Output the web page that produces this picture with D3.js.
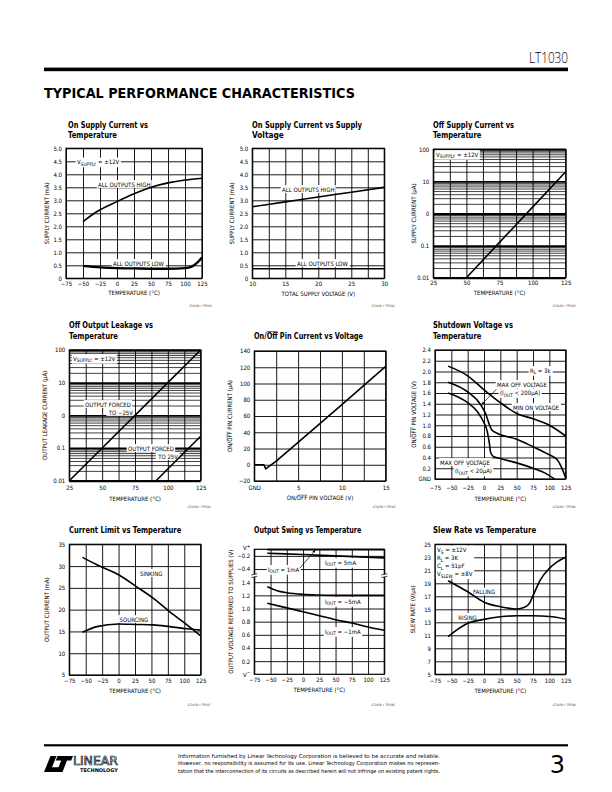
<!DOCTYPE html>
<html><head><meta charset="utf-8">
<script src="https://cdn.jsdelivr.net/npm/d3@7"></script>
<style>body{margin:0;background:#fff}svg{display:block}</style>
</head><body>
<svg id="page" width="612" height="792"></svg>
<script>
// ================= DATA =================
const tempTicks = [-75,-50,-25,0,25,50,75,100,125];
const tempTickLabels = ["−75","−50","−25","0","25","50","75","100","125"];
const logTicks = [100,10,1,0.1,0.01];
const logTickLabels = ["100","10","0","0.1","0.01"];
const logTempGrid = [25,37.5,50,62.5,75,87.5,100,112.5,125];
const logTempTicks = [25,50,75,100,125];
const logTempLabels = ["25","50","75","100","125"];

// Chart 1: On supply current vs temperature (mA)
const c1YTicks = [0,0.5,1,1.5,2,2.5,3,3.5,4,4.5,5];
const c1YLabels = ["0","0.5","1.0","1.5","2.0","2.5","3.0","3.5","4.0","4.5","5.0"];
const c1High = [[-50,2.18],[-30,2.56],[0,2.95],[25,3.25],[50,3.5],[75,3.67],[100,3.78],[125,3.85]];
const c1Low = [[-50,0.48],[-25,0.42],[0,0.39],[25,0.38],[50,0.37],[75,0.37],[100,0.39],[110,0.45],[118,0.6],[125,0.8]];

// Chart 2: On supply current vs supply voltage
const c2XGrid = [10,12.5,15,17.5,20,22.5,25,27.5,30];
const c2XTicks = [10,15,20,25,30];
const c2XLabels = ["10","15","20","25","30"];
const c2High = [[10,2.75],[15,2.94],[20,3.13],[25,3.31],[30,3.5]];
const c2Low = [[10,0.37],[20,0.37],[30,0.37]];

// Chart 3: Off supply current vs temperature (µA)
const c3Line = [[50,0.01],[75,0.126],[100,1.58],[125,20]];

// Chart 4: Off output leakage vs temperature
const c4Neg25 = [[25,0.01],[50,0.1],[75,1],[100,10],[125,100]];
const c4Pos25 = [[91,0.01],[116,0.1],[125,0.23]];

// Chart 5: On/Off pin current vs voltage
const c5XGrid = [0,2.5,5,7.5,10,12.5,15];
const c5XTicks = [0,5,10,15];
const c5XLabels = ["GND","5","10","15"];
const c5YTicks = [-20,0,20,40,60,80,100,120,140];
const c5YLabels = ["−20","0","20","40","60","80","100","120","140"];
const c5Line = [[0,0],[1.1,0],[1.3,-5],[2.5,4.5],[5,27.5],[10,74],[15,121]];

// Chart 6: Shutdown voltage vs temperature
const c6YTicks = [0,0.2,0.4,0.6,0.8,1,1.2,1.4,1.6,1.8,2,2.2,2.4];
const c6YLabels = ["GND","0.2","0.4","0.6","0.8","1.0","1.2","1.4","1.6","1.8","2.0","2.2","2.4"];
const c6MinOn = [[-55,2.1],[-25,1.92],[0,1.66],[25,1.42],[50,1.22],[75,1.12],[100,1.0],[125,0.8]];
const c6MaxOff200 = [[-55,1.8],[-25,1.62],[-5,1.38],[3,1.2],[8,1.02],[12,0.91],[20,0.85],[50,0.74],[75,0.6],[100,0.45],[112,0.36],[120,0.18],[125,0.02]];
const c6MaxOff20 = [[-55,1.6],[-25,1.42],[-10,1.25],[-1,1.07],[5,0.88],[8,0.68],[10,0.5],[14,0.42],[25,0.38],[50,0.3],[75,0.2],[95,0.1],[108,0.0]];

// Chart 7: Current limit vs temperature
const c7YTicks = [5,10,15,20,25,30,35];
const c7YLabels = ["5","10","15","20","25","30","35"];
const c7Sinking = [[-55,32],[-33,30.3],[0,28],[27,25.3],[53,22.6],[78,19.5],[104,16.5],[125,14]];
const c7Sourcing = [[-55,14.8],[-33,16.1],[0,16.7],[27,16.6],[53,16.5],[78,16.1],[104,15.6],[125,15.3]];

// Chart 8: Output swing vs temperature (broken axis: rows)
const c8Rows = [0,1,2,3,4,5,6,7,8,9,9.5];
const c8RowLabels = ["V−","0.2","0.4","0.6","0.8","1.0","1.2","1.4","−0.4","−0.2","V+"];
const c8GridRows = [1,2,3,4,5,6,7,8,9];
const c8High1mA = [[-55,-0.105],[25,-0.105],[125,-0.105]];       // referred to V+
const c8High5mA = [[-55,-0.16],[0,-0.18],[50,-0.2],[125,-0.23]];   // referred to V+
const c8Low5mA = [[-55,1.33],[-40,1.27],[-25,1.24],[0,1.215],[25,1.205],[50,1.2],[125,1.2]]; // referred to V−
const c8Low1mA = [[-55,1.08],[-25,1.01],[0,0.95],[25,0.89],[50,0.83],[75,0.78],[100,0.72],[125,0.67]];

// Chart 9: Slew rate vs temperature
const c9YTicks = [5,7,9,11,13,15,17,19,21,23,25];
const c9YLabels = ["5","7","9","11","13","15","17","19","21","23","25"];
const c9Falling = [[-55,19.4],[-25,17.7],[0,16.1],[25,15.4],[50,15.05],[62,15.3],[70,16.0],[75,17.1],[86,19.5],[100,21.3],[112,22.3],[125,23.0]];
const c9Rising = [[-55,10.8],[-25,12.85],[0,13.45],[25,13.85],[50,14.0],[75,14.0],[100,13.9],[125,13.5]];

const footerLines = [
  "Information furnished by Linear Technology Corporation is believed to be accurate and reliable.",
  "However, no responsibility is assumed for its use. Linear Technology Corporation makes no represen-",
  "tation that the interconnection of its circuits as described herein will not infringe on existing patent rights."
];

// ================= HELPERS =================
const NARROW = "'Liberation Sans Narrow','DejaVu Sans Condensed','Arial Narrow',sans-serif";
const svg = d3.select('#page');
svg.append('defs').append('marker').attr('id','arr').attr('viewBox','0 0 10 10')
  .attr('refX',9).attr('refY',5).attr('markerWidth',5).attr('markerHeight',5).attr('orient','auto')
  .append('path').attr('d','M0,1.5 L10,5 L0,8.5 Z').attr('fill','#000');

function addParts(t, parts, size) {
  if (!Array.isArray(parts)) parts = [parts];
  let shift = 0, idx = 0, cur = null, curKind = null;
  const overs = [];
  parts.forEach(p => {
    if (typeof p === 'string') p = {t: p};
    const kind = p.sub ? 'sub' : p.sup ? 'sup' : 'n';
    if (cur && kind === curKind) {
      cur.text(cur.text() + p.t);
    } else {
      cur = t.append('tspan').text(p.t); curKind = kind;
      const want = p.sub ? size*0.3 : p.sup ? -size*0.4 : 0;
      if (want !== shift) { cur.attr('dy', want - shift); shift = want; }
      if (kind !== 'n') cur.attr('font-size', size*0.8);
    }
    if (p.over) overs.push([idx, idx + p.t.length - 1]);
    idx += p.t.length;
  });
  return overs;
}
function bg(g, texts, pad) {
  pad = pad == null ? 1.3 : pad;
  let x0=Infinity,y0=Infinity,x1=-Infinity,y1=-Infinity;
  texts.forEach(t => { const b = t.node().getBBox();
    x0=Math.min(x0,b.x); y0=Math.min(y0,b.y); x1=Math.max(x1,b.x+b.width); y1=Math.max(y1,b.y+b.height); });
  g.insert('rect', () => texts[0].node()).attr('x',x0-pad).attr('y',y0-0.4)
    .attr('width',x1-x0+2*pad).attr('height',y1-y0+0.8).attr('fill','#fff');
}
function tx(g, x, y, parts, o) {
  o = o || {};
  const size = o.size || 6;
  const t = g.append('text').attr('x',x).attr('y',y)
    .attr('font-family', o.family || NARROW).attr('font-size', size)
    .attr('font-weight', o.weight || 'normal')
    .attr('text-anchor', o.anchor || 'start').attr('fill', o.fill || '#000');
  const tr = o.rotate ? `rotate(${o.rotate},${x},${y})` : null;
  if (tr) t.attr('transform', tr);
  const overs = addParts(t, parts, size);
  if (o.len) t.attr('textLength', o.len).attr('lengthAdjust', 'spacingAndGlyphs');
  if (o.stroke) t.attr('stroke', o.stroke).attr('stroke-width', o.sw || 0.5);
  if (o.bg) bg(g, [t], o.pad);
  overs.forEach(([i0, i1]) => {
    const a = t.node().getExtentOfChar(i0), b = t.node().getExtentOfChar(i1);
    const yy = y - size * 0.82;
    const l = g.append('line').attr('x1', a.x + 0.2).attr('x2', b.x + b.width - 0.2)
      .attr('y1', yy).attr('y2', yy).attr('stroke', '#000').attr('stroke-width', size * 0.07);
    if (tr) l.attr('transform', tr);
  });
  return t;
}
function gridX(g, xs, ys, vals, w) {
  const [b, t] = ys.range();
  g.append('g').attr('transform', `translate(0,${b})`)
    .call(d3.axisBottom(xs).tickValues(vals).tickSize(-(b - t)).tickFormat(''))
    .call(a => { a.select('.domain').remove(); a.selectAll('line').attr('stroke','#000').attr('stroke-width', w || 0.9); });
}
function gridY(g, xs, ys, vals, w) {
  const [l, r] = xs.range();
  g.append('g').attr('transform', `translate(${l},0)`)
    .call(d3.axisLeft(ys).tickValues(vals).tickSize(-(r - l)).tickFormat(''))
    .call(a => { a.select('.domain').remove(); a.selectAll('line').attr('stroke','#000').attr('stroke-width', w || 0.9); });
}
function ticksX(g, xs, ys, vals, labs, base) {
  const b = ys.range()[0];
  return g.append('g').attr('transform', `translate(0,${b})`)
    .call(d3.axisBottom(xs).tickValues(vals).tickSize(0).tickPadding(0).tickFormat((d,i) => labs[i]))
    .call(a => { a.select('.domain').remove();
      a.selectAll('text').attr('dy', null).attr('y', base || 8.5).attr('font-family', NARROW).attr('font-size', 6).attr('fill','#000'); });
}
function ticksY(g, xs, ys, vals, labs) {
  const l = xs.range()[0];
  return g.append('g').attr('transform', `translate(${l},0)`)
    .call(d3.axisLeft(ys).tickValues(vals).tickSize(0).tickPadding(4).tickFormat((d,i) => labs[i]))
    .call(a => { a.select('.domain').remove();
      a.selectAll('text').attr('font-family', NARROW).attr('font-size', 6).attr('fill','#000'); });
}
function frame(g, xs, ys) {
  const [l, r] = xs.range(); const [b, t] = ys.range();
  g.append('rect').attr('x', l).attr('y', t).attr('width', r - l).attr('height', b - t)
    .attr('fill','none').attr('stroke','#000').attr('stroke-width', 1.2);
}
function curve(g, data, xs, ys, w, c) {
  g.append('path').datum(data).attr('fill','none').attr('stroke','#000')
    .attr('stroke-width', w || 1.6).attr('stroke-linejoin','round').attr('stroke-linecap','butt')
    .attr('d', d3.line().x(d => xs(d[0])).y(d => ys(d[1])).curve(c || d3.curveMonotoneX));
}
function titleText(x, y, parts, len) {
  return tx(svg, x, y, parts, {size: 9, weight: 'bold', len: len});
}
function yTitle(g, x, ys, parts) {
  const [b, t] = ys.range();
  return tx(g, x, (b + t) / 2, parts, {rotate: -90, anchor: 'middle', size: 6});
}
function xTitle(g, xs, y, parts) {
  const [l, r] = xs.range();
  return tx(g, (l + r) / 2, y, parts, {anchor: 'middle', size: 6});
}
function code(g, xs, y, s) {
  tx(g, xs.range()[1] + 10, y, s, {anchor: 'end', size: 3.2, fill: '#333'});
}
const logMinor = [];
[-2,-1,0,1].forEach(k => { for (let m = 2; m <= 9; m++) logMinor.push(m * Math.pow(10, k)); });

// ================= HEADER =================
tx(svg, 568, 63, 'LT1030', {size: 15, anchor: 'end', weight: 300, family: "'Open Sans','Inter','DejaVu Sans',sans-serif", len: 39});
svg.append('rect').attr('x', 44).attr('y', 67.6).attr('width', 524).attr('height', 3.6).attr('fill', '#000');
tx(svg, 44, 98.3, 'TYPICAL PERFORMANCE CHARACTERISTICS', {size: 14, weight: 'bold', family: "'DejaVu Sans',sans-serif", len: 311});

// ================= CHART 1 =================
{
  const g = svg.append('g');
  const xs = d3.scaleLinear().domain([-75,125]).range([66,202]);
  const ys = d3.scaleLinear().domain([0,5]).range([278.3,148.3]);
  titleText(68, 127.5, 'On Supply Current vs', 80);
  titleText(68, 138.3, 'Temperature', 49);
  gridX(g, xs, ys, tempTicks); gridY(g, xs, ys, c1YTicks);
  ticksX(g, xs, ys, tempTicks, tempTickLabels, 7.5);
  ticksY(g, xs, ys, c1YTicks, c1YLabels);
  yTitle(g, 49, ys, 'SUPPLY CURRENT (mA)');
  xTitle(g, xs, 295, 'TEMPERATURE (°C)');
  tx(g, 77, 164, ['V', {t:'SUPPLY', sub:true}, ' = ±12V'], {bg: true});
  tx(g, 98, 186.5, 'ALL OUTPUTS HIGH', {bg: true});
  tx(g, 113, 265.5, 'ALL OUTPUTS LOW', {bg: true});
  frame(g, xs, ys);
  curve(g, c1High, xs, ys, 1.6);
  curve(g, c1Low, xs, ys, 2.4);
  code(g, xs, 307, 'LT1030 • TPC01');
}
// ================= CHART 2 =================
{
  const g = svg.append('g');
  const xs = d3.scaleLinear().domain([10,30]).range([252.3,384.3]);
  const ys = d3.scaleLinear().domain([0,5]).range([278.3,148.3]);
  titleText(252, 127.5, 'On Supply Current vs Supply', 110);
  titleText(252, 138.3, 'Voltage', 31.7);
  gridX(g, xs, ys, c2XGrid); gridY(g, xs, ys, c1YTicks);
  ticksX(g, xs, ys, c2XTicks, c2XLabels, 8);
  ticksY(g, xs, ys, c1YTicks, c1YLabels);
  yTitle(g, 234, ys, 'SUPPLY CURRENT (mA)');
  xTitle(g, xs, 295.5, 'TOTAL SUPPLY VOLTAGE (V)');
  tx(g, 282, 191.5, 'ALL OUTPUTS HIGH', {bg: true});
  tx(g, 297, 265.5, 'ALL OUTPUTS LOW', {bg: true});
  frame(g, xs, ys);
  curve(g, c2High, xs, ys, 1.6);
  curve(g, c2Low, xs, ys, 1.4);
  code(g, xs, 307, 'LT1030 • TPC02');
}
// ================= CHART 3 =================
{
  const g = svg.append('g');
  const xs = d3.scaleLinear().domain([25,125]).range([433.3,565.7]);
  const ys = d3.scaleLog().domain([0.01,100]).range([277.7,149.3]);
  titleText(433, 127.5, 'Off Supply Current vs', 81);
  titleText(433, 138.3, 'Temperature', 48.3);
  gridY(g, xs, ys, logMinor, 0.75);
  gridY(g, xs, ys, logTicks, 1.9);
  gridX(g, xs, ys, logTempGrid);
  ticksX(g, xs, ys, logTempTicks, logTempLabels, 7.5);
  ticksY(g, xs, ys, logTicks, logTickLabels);
  yTitle(g, 415.5, ys, 'SUPPLY CURRENT (μA)');
  xTitle(g, xs, 294.5, 'TEMPERATURE (°C)');
  tx(g, 436, 156.5, ['V', {t:'SUPPLY', sub:true}, ' = ±12V'], {bg: true});
  frame(g, xs, ys);
  curve(g, c3Line, xs, ys, 1.6, d3.curveLinear);
  code(g, xs, 307, 'LT1030 • TPC03');
}
// ================= CHART 4 =================
{
  const g = svg.append('g');
  const xs = d3.scaleLinear().domain([25,125]).range([69.3,200.7]);
  const ys = d3.scaleLog().domain([0.01,100]).range([480.7,350]);
  titleText(69, 327.7, 'Off Output Leakage vs', 84);
  titleText(69, 339, 'Temperature', 49);
  gridY(g, xs, ys, logMinor, 0.75);
  gridY(g, xs, ys, logTicks, 1.9);
  gridX(g, xs, ys, logTempGrid);
  ticksX(g, xs, ys, logTempTicks, logTempLabels, 9.8);
  ticksY(g, xs, ys, logTicks, logTickLabels);
  yTitle(g, 47.5, ys, 'OUTPUT LEAKAGE CURRENT (μA)');
  xTitle(g, xs, 500.5, 'TEMPERATURE (°C)');
  tx(g, 73, 360.5, ['V', {t:'SUPPLY', sub:true}, ' = ±12V'], {bg: true});
  tx(g, 85, 406.5, 'OUTPUT FORCED', {bg: true});
  tx(g, 133, 414.5, 'TO −25V', {bg: true, anchor: 'end'});
  tx(g, 128, 450.5, 'OUTPUT FORCED', {bg: true});
  tx(g, 178, 458.5, 'TO 25V', {bg: true, anchor: 'end'});
  frame(g, xs, ys);
  curve(g, c4Neg25, xs, ys, 1.6, d3.curveLinear);
  curve(g, c4Pos25, xs, ys, 1.6, d3.curveLinear);
  code(g, xs, 508, 'LT1030 • TPC04');
}
// ================= CHART 5 =================
{
  const g = svg.append('g');
  const xs = d3.scaleLinear().domain([0,15]).range([254.3,385.7]);
  const ys = d3.scaleLinear().domain([-20,140]).range([481,351]);
  titleText(254, 339, ['On/', {t:'Off', over:true}, ' Pin Current vs Voltage'], 109);
  gridX(g, xs, ys, c5XGrid); gridY(g, xs, ys, c5YTicks);
  ticksX(g, xs, ys, c5XTicks, c5XLabels, 8.8);
  ticksY(g, xs, ys, c5YTicks, c5YLabels);
  yTitle(g, 232, ys, ['ON/', {t:'OFF', over:true}, ' PIN CURRENT (μA)']);
  xTitle(g, xs, 500, ['ON/', {t:'OFF', over:true}, ' PIN VOLTAGE (V)']);
  frame(g, xs, ys);
  curve(g, c5Line, xs, ys, 1.6, d3.curveLinear);
  code(g, xs, 508, 'LT1030 • TPC05');
}
// ================= CHART 6 =================
{
  const g = svg.append('g');
  const xs = d3.scaleLinear().domain([-75,125]).range([435,565.7]);
  const ys = d3.scaleLinear().domain([0,2.4]).range([479,350]);
  titleText(433, 327.7, 'Shutdown Voltage vs', 80);
  titleText(433, 339, 'Temperature', 48.3);
  gridX(g, xs, ys, tempTicks); gridY(g, xs, ys, c6YTicks);
  ticksX(g, xs, ys, tempTicks, tempTickLabels, 11);
  ticksY(g, xs, ys, c6YTicks, c6YLabels);
  yTitle(g, 415.5, ys, ['ON/', {t:'OFF', over:true}, ' PIN VOLTAGE (V)']);
  xTitle(g, xs, 500.5, 'TEMPERATURE (°C)');
  tx(g, 530, 372.5, ['R', {t:'L', sub:true}, ' = 3k'], {bg: true});
  tx(g, 497, 386.5, 'MAX OFF VOLTAGE', {bg: true});
  tx(g, 500, 394.8, ['(I', {t:'OUT', sub:true}, ' < 200μA)'], {bg: true});
  tx(g, 513, 409.5, 'MIN ON VOLTAGE', {bg: true});
  tx(g, 440, 464.5, 'MAX OFF VOLTAGE', {bg: true});
  tx(g, 455, 473.2, ['(I', {t:'OUT', sub:true}, ' < 20μA)'], {bg: true});
  frame(g, xs, ys);
  curve(g, c6MinOn, xs, ys, 1.6);
  curve(g, c6MaxOff200, xs, ys, 1.6);
  curve(g, c6MaxOff20, xs, ys, 1.6);
  g.append('line').attr('x1', xs(19)).attr('y1', ys(1.67)).attr('x2', xs(-3.5)).attr('y2', ys(1.39))
    .attr('stroke','#000').attr('stroke-width',0.7).attr('marker-end','url(#arr)');
  code(g, xs, 508, 'LT1030 • TPC06');
}
// ================= CHART 7 =================
{
  const g = svg.append('g');
  const xs = d3.scaleLinear().domain([-75,125]).range([69.3,200.7]);
  const ys = d3.scaleLinear().domain([5,35]).range([675,544.3]);
  titleText(69, 533.3, 'Current Limit vs Temperature', 112.3);
  gridX(g, xs, ys, tempTicks); gridY(g, xs, ys, c7YTicks);
  ticksX(g, xs, ys, tempTicks, tempTickLabels, 8);
  ticksY(g, xs, ys, c7YTicks, c7YLabels);
  yTitle(g, 49.5, ys, 'OUTPUT CURRENT (mA)');
  xTitle(g, xs, 693, 'TEMPERATURE (°C)');
  tx(g, 140, 575.5, 'SINKING', {bg: true});
  tx(g, 119.5, 621.5, 'SOURCING', {bg: true});
  frame(g, xs, ys);
  curve(g, c7Sinking, xs, ys, 1.6);
  curve(g, c7Sourcing, xs, ys, 1.6);
  code(g, xs, 706, 'LT1030 • TPC07');
}
// ================= CHART 8 =================
{
  const g = svg.append('g');
  const xs = d3.scaleLinear().domain([-75,125]).range([254.3,384.3]);
  const ys = d3.scaleLinear().domain([0,9.5]).range([674.3,549.3]);   // axis rows
  const yHigh = v => ys(10 + v / 0.2);   // volts referred to V+
  const yLow = v => ys(v / 0.2);         // volts referred to V−
  titleText(254, 533.3, 'Output Swing vs Temperature', 107.3);
  gridX(g, xs, ys, tempTicks); gridY(g, xs, ys, c8GridRows);
  ticksX(g, xs, ys, tempTicks, tempTickLabels, 8);
  const ay = ticksY(g, xs, ys, c8Rows, c8RowLabels);
  ay.selectAll('text').each(function() {
    const s = d3.select(this); const v = s.text();
    if (v === 'V+' || v === 'V−') {
      s.text(''); addParts(s, ['V', {t: v.slice(1), sup: true}], 6);
      if (v === 'V+') s.attr('dy', '0.1em');
    }
  });
  yTitle(g, 233, ys, 'OUTPUT VOLTAGE REFERRED TO SUPPLIES (V)');
  xTitle(g, xs, 692, 'TEMPERATURE (°C)');
  tx(g, 325, 564.5, ['I', {t:'OUT', sub:true}, ' = 5mA'], {bg: true});
  tx(g, 268, 571.5, ['I', {t:'OUT', sub:true}, ' = 1mA'], {bg: true});
  tx(g, 325, 603.5, ['I', {t:'OUT', sub:true}, ' = −5mA'], {bg: true});
  tx(g, 325, 633.5, ['I', {t:'OUT', sub:true}, ' = −1mA'], {bg: true});
  frame(g, xs, ys);
  [xs.range()[0], xs.range()[1]].forEach(x => {
    const y = ys(7.5);
    g.append('rect').attr('x', x - 3).attr('y', y - 1.3).attr('width', 6).attr('height', 2.6).attr('fill', '#fff');
    g.append('line').attr('x1', x - 3).attr('x2', x + 3).attr('y1', y - 0.6).attr('y2', y - 2.0).attr('stroke', '#000').attr('stroke-width', 0.7);
    g.append('line').attr('x1', x - 3).attr('x2', x + 3).attr('y1', y + 2.0).attr('y2', y + 0.6).attr('stroke', '#000').attr('stroke-width', 0.7);
  });
  const ln = (data, f, w) => g.append('path').datum(data).attr('fill','none').attr('stroke','#000').attr('stroke-width', w)
      .attr('d', d3.line().x(d => xs(d[0])).y(d => f(d[1])).curve(d3.curveMonotoneX));
  ln(c8High1mA, yHigh, 1.6);
  ln(c8High5mA, yHigh, 1.6);
  ln(c8Low5mA, yLow, 1.6);
  ln(c8Low1mA, yLow, 1.6);
  g.append('line').attr('x1', 300).attr('y1', 568).attr('x2', xs(19)).attr('y2', yHigh(-0.11))
    .attr('stroke','#000').attr('stroke-width',0.7).attr('marker-end','url(#arr)');
  code(g, xs, 706, 'LT1030 • TPC08');
}
// ================= CHART 9 =================
{
  const g = svg.append('g');
  const xs = d3.scaleLinear().domain([-75,125]).range([435,565.7]);
  const ys = d3.scaleLinear().domain([5,25]).range([674.3,544.3]);
  titleText(433, 533.3, 'Slew Rate vs Temperature', 103.3);
  gridX(g, xs, ys, tempTicks); gridY(g, xs, ys, c9YTicks);
  ticksX(g, xs, ys, tempTicks, tempTickLabels, 8.5);
  ticksY(g, xs, ys, c9YTicks, c9YLabels);
  yTitle(g, 415.5, ys, 'SLEW RATE (V/μs)');
  xTitle(g, xs, 693, 'TEMPERATURE (°C)');
  const leg = [
    tx(g, 437, 552, ['V', {t:'S', sub:true}, ' = ±12V']),
    tx(g, 437, 560, ['R', {t:'L', sub:true}, ' = 3K']),
    tx(g, 437, 568, ['C', {t:'L', sub:true}, ' = 51pF']),
    tx(g, 437, 575.8, ['V', {t:'SLEW', sub:true}, ' = ±8V'])
  ];
  bg(g, leg, 1.5);
  tx(g, 473, 594, 'FALLING', {bg: true});
  tx(g, 458.3, 619.5, 'RISING', {bg: true});
  frame(g, xs, ys);
  curve(g, c9Falling, xs, ys, 1.6);
  curve(g, c9Rising, xs, ys, 1.6);
  code(g, xs, 706, 'LT1030 • TPC09');
}

// ================= FOOTER =================
svg.append('rect').attr('x', 44).attr('y', 744.2).attr('width', 524).attr('height', 2.2).attr('fill', '#000');
{
  const g = svg.append('g');
  g.append('path').attr('d', 'M44,772 L50.5,756 L56.5,756 L52,767.3 L60,767.3 L58,772 Z').attr('fill', '#000');
  g.append('path').attr('d', 'M57.5,756 L73,756 L71.2,760.5 L67,760.5 L62.5,772 L56.7,772 L61.2,760.5 L55.7,760.5 Z').attr('fill', '#000');
  tx(g, 73, 765, 'LINEAR', {size: 12, family: "'Liberation Sans Narrow','DejaVu Sans Condensed',sans-serif", fill: '#fff', stroke: '#000', sw: 0.6, len: 45});
  tx(g, 80, 772, 'TECHNOLOGY', {size: 5, weight: 'bold', family: "'DejaVu Sans',sans-serif", len: 38});
  footerLines.forEach((s, i) => tx(g, 178, 757.5 + i * 7.6, s, {size: 5.3, len: 262}));
  tx(g, 565, 773, '3', {size: 24, anchor: 'end', family: "'DejaVu Sans','Liberation Sans',sans-serif"});
}
</script>
</body></html>
